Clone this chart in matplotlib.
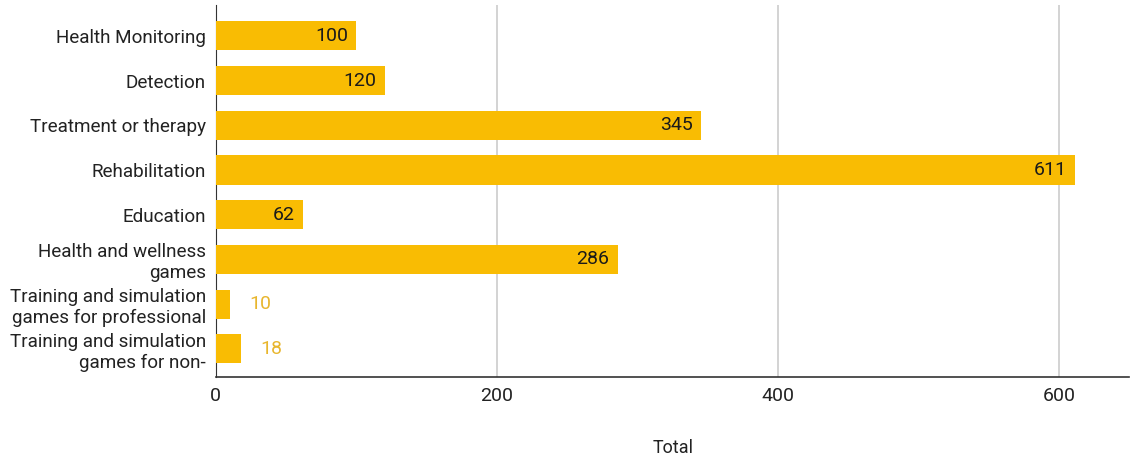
import numpy as np
import matplotlib.pyplot as plt

categories = ["Health Monitoring", "Detection", "Treatment or therapy",
              "Rehabilitation", "Education", "Health and wellness\ngames",
              "Training and simulation\ngames for professional",
              "Training and simulation\ngames for non-"]
totals = [100, 120, 345, 611, 62, 286, 10, 18]
xticks = [0, 200, 400, 600]

bar_color = "#F9BC03"
out_label_color = "#E8B62E"

plt.rcParams['font.family'] = ['Roboto', 'DejaVu Sans']

fig = plt.figure(figsize=(11.42, 4.63), dpi=100)
ax = fig.add_axes([0.189, 0.186, 0.8, 0.803])

y = np.arange(len(categories))
bars = ax.barh(y, totals, height=0.65, color=bar_color, zorder=3)

for b, v in zip(bars, totals):
    yc = b.get_y() + b.get_height() / 2
    if v >= 50:
        ax.annotate(str(v), (v, yc), xytext=(-6, 0), textcoords="offset points",
                    ha="right", va="center", fontsize=14, color="#1a1a1a", zorder=4)
    else:
        ax.annotate(str(v), (v, yc), xytext=(14, 0), textcoords="offset points",
                    ha="left", va="center", fontsize=14, color=out_label_color, zorder=4)

ax.set_xlim(0, 650)
ax.set_ylim(7.63, -0.69)
ax.set_xticks(xticks)
ax.set_yticks(y)
ax.set_yticklabels(categories, fontsize=13.6, linespacing=1.2)
ax.tick_params(axis="both", length=0, colors="#222222")
ax.tick_params(axis="x", labelsize=14, pad=7)
ax.tick_params(axis="y", pad=7)
ax.grid(axis="x", color="#cccccc", linewidth=1.2, zorder=0)

for s in ["top", "right"]:
    ax.spines[s].set_visible(False)
ax.spines["left"].set_color("#333333")
ax.spines["bottom"].set_color("#333333")
ax.spines["bottom"].set_linewidth(1.2)

ax.set_xlabel("Total", fontsize=13, labelpad=25, color="#222222")

fig.savefig("out.png", dpi=100)
